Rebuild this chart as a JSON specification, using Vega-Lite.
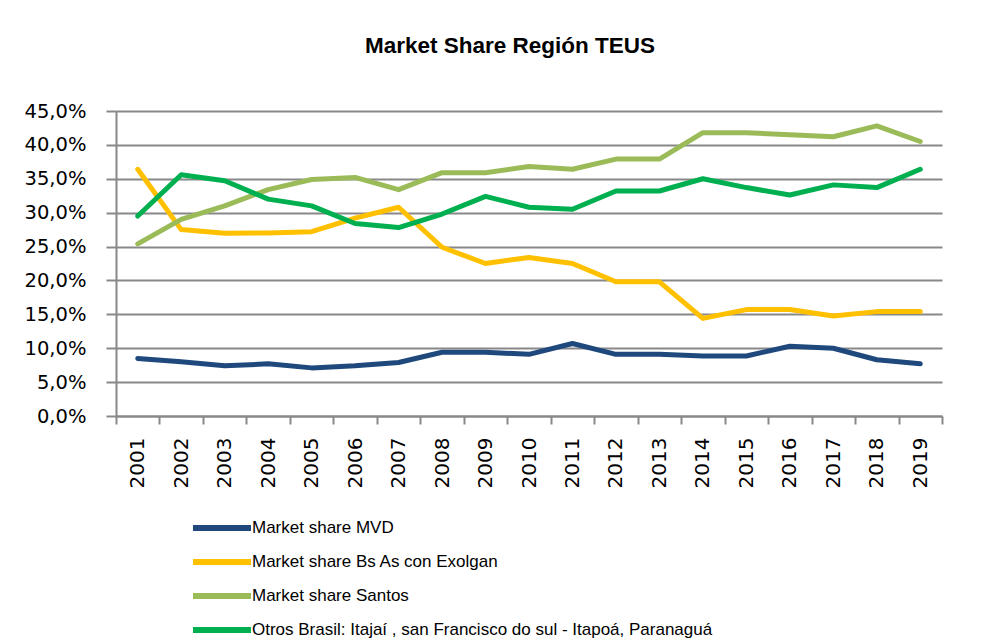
{
  "$schema": "https://vega.github.io/schema/vega-lite/v6.json",
  "width": 826,
  "height": 305,
  "autosize": "none",
  "padding": {"left": 116, "top": 111, "right": 53, "bottom": 222},
  "background": "white",
  "title": {"text": "Market Share Región TEUS", "font": "Liberation Sans", "fontSize": 22.5, "fontWeight": "bold", "color": "#000000", "anchor": "middle", "offset": 44, "dx": -19},
  "config": {"view": {"stroke": null}},
  "data": {"values": [
    {"year": "2001", "series": "Market share MVD", "value": 0.085},
    {"year": "2002", "series": "Market share MVD", "value": 0.080},
    {"year": "2003", "series": "Market share MVD", "value": 0.074},
    {"year": "2004", "series": "Market share MVD", "value": 0.077},
    {"year": "2005", "series": "Market share MVD", "value": 0.071},
    {"year": "2006", "series": "Market share MVD", "value": 0.074},
    {"year": "2007", "series": "Market share MVD", "value": 0.079},
    {"year": "2008", "series": "Market share MVD", "value": 0.094},
    {"year": "2009", "series": "Market share MVD", "value": 0.094},
    {"year": "2010", "series": "Market share MVD", "value": 0.091},
    {"year": "2011", "series": "Market share MVD", "value": 0.107},
    {"year": "2012", "series": "Market share MVD", "value": 0.091},
    {"year": "2013", "series": "Market share MVD", "value": 0.091},
    {"year": "2014", "series": "Market share MVD", "value": 0.0885},
    {"year": "2015", "series": "Market share MVD", "value": 0.0885},
    {"year": "2016", "series": "Market share MVD", "value": 0.103},
    {"year": "2017", "series": "Market share MVD", "value": 0.100},
    {"year": "2018", "series": "Market share MVD", "value": 0.083},
    {"year": "2019", "series": "Market share MVD", "value": 0.077},
    {"year": "2001", "series": "Market share Bs As con Exolgan", "value": 0.364},
    {"year": "2002", "series": "Market share Bs As con Exolgan", "value": 0.275},
    {"year": "2003", "series": "Market share Bs As con Exolgan", "value": 0.2695},
    {"year": "2004", "series": "Market share Bs As con Exolgan", "value": 0.270},
    {"year": "2005", "series": "Market share Bs As con Exolgan", "value": 0.272},
    {"year": "2006", "series": "Market share Bs As con Exolgan", "value": 0.292},
    {"year": "2007", "series": "Market share Bs As con Exolgan", "value": 0.308},
    {"year": "2008", "series": "Market share Bs As con Exolgan", "value": 0.249},
    {"year": "2009", "series": "Market share Bs As con Exolgan", "value": 0.225},
    {"year": "2010", "series": "Market share Bs As con Exolgan", "value": 0.234},
    {"year": "2011", "series": "Market share Bs As con Exolgan", "value": 0.225},
    {"year": "2012", "series": "Market share Bs As con Exolgan", "value": 0.198},
    {"year": "2013", "series": "Market share Bs As con Exolgan", "value": 0.198},
    {"year": "2014", "series": "Market share Bs As con Exolgan", "value": 0.144},
    {"year": "2015", "series": "Market share Bs As con Exolgan", "value": 0.157},
    {"year": "2016", "series": "Market share Bs As con Exolgan", "value": 0.157},
    {"year": "2017", "series": "Market share Bs As con Exolgan", "value": 0.1475},
    {"year": "2018", "series": "Market share Bs As con Exolgan", "value": 0.154},
    {"year": "2019", "series": "Market share Bs As con Exolgan", "value": 0.154},
    {"year": "2001", "series": "Market share Santos", "value": 0.254},
    {"year": "2002", "series": "Market share Santos", "value": 0.290},
    {"year": "2003", "series": "Market share Santos", "value": 0.310},
    {"year": "2004", "series": "Market share Santos", "value": 0.334},
    {"year": "2005", "series": "Market share Santos", "value": 0.349},
    {"year": "2006", "series": "Market share Santos", "value": 0.352},
    {"year": "2007", "series": "Market share Santos", "value": 0.334},
    {"year": "2008", "series": "Market share Santos", "value": 0.359},
    {"year": "2009", "series": "Market share Santos", "value": 0.359},
    {"year": "2010", "series": "Market share Santos", "value": 0.368},
    {"year": "2011", "series": "Market share Santos", "value": 0.364},
    {"year": "2012", "series": "Market share Santos", "value": 0.379},
    {"year": "2013", "series": "Market share Santos", "value": 0.379},
    {"year": "2014", "series": "Market share Santos", "value": 0.418},
    {"year": "2015", "series": "Market share Santos", "value": 0.418},
    {"year": "2016", "series": "Market share Santos", "value": 0.415},
    {"year": "2017", "series": "Market share Santos", "value": 0.412},
    {"year": "2018", "series": "Market share Santos", "value": 0.428},
    {"year": "2019", "series": "Market share Santos", "value": 0.405},
    {"year": "2001", "series": "Otros Brasil: Itajaí , san Francisco do sul - Itapoá, Paranaguá", "value": 0.295},
    {"year": "2002", "series": "Otros Brasil: Itajaí , san Francisco do sul - Itapoá, Paranaguá", "value": 0.356},
    {"year": "2003", "series": "Otros Brasil: Itajaí , san Francisco do sul - Itapoá, Paranaguá", "value": 0.347},
    {"year": "2004", "series": "Otros Brasil: Itajaí , san Francisco do sul - Itapoá, Paranaguá", "value": 0.320},
    {"year": "2005", "series": "Otros Brasil: Itajaí , san Francisco do sul - Itapoá, Paranaguá", "value": 0.310},
    {"year": "2006", "series": "Otros Brasil: Itajaí , san Francisco do sul - Itapoá, Paranaguá", "value": 0.284},
    {"year": "2007", "series": "Otros Brasil: Itajaí , san Francisco do sul - Itapoá, Paranaguá", "value": 0.278},
    {"year": "2008", "series": "Otros Brasil: Itajaí , san Francisco do sul - Itapoá, Paranaguá", "value": 0.298},
    {"year": "2009", "series": "Otros Brasil: Itajaí , san Francisco do sul - Itapoá, Paranaguá", "value": 0.324},
    {"year": "2010", "series": "Otros Brasil: Itajaí , san Francisco do sul - Itapoá, Paranaguá", "value": 0.308},
    {"year": "2011", "series": "Otros Brasil: Itajaí , san Francisco do sul - Itapoá, Paranaguá", "value": 0.305},
    {"year": "2012", "series": "Otros Brasil: Itajaí , san Francisco do sul - Itapoá, Paranaguá", "value": 0.332},
    {"year": "2013", "series": "Otros Brasil: Itajaí , san Francisco do sul - Itapoá, Paranaguá", "value": 0.332},
    {"year": "2014", "series": "Otros Brasil: Itajaí , san Francisco do sul - Itapoá, Paranaguá", "value": 0.350},
    {"year": "2015", "series": "Otros Brasil: Itajaí , san Francisco do sul - Itapoá, Paranaguá", "value": 0.337},
    {"year": "2016", "series": "Otros Brasil: Itajaí , san Francisco do sul - Itapoá, Paranaguá", "value": 0.326},
    {"year": "2017", "series": "Otros Brasil: Itajaí , san Francisco do sul - Itapoá, Paranaguá", "value": 0.341},
    {"year": "2018", "series": "Otros Brasil: Itajaí , san Francisco do sul - Itapoá, Paranaguá", "value": 0.337},
    {"year": "2019", "series": "Otros Brasil: Itajaí , san Francisco do sul - Itapoá, Paranaguá", "value": 0.364}
  ]},
  "mark": {"type": "line", "strokeWidth": 5, "strokeCap": "round", "strokeJoin": "round"},
  "encoding": {
    "x": {
      "field": "year", "type": "ordinal",
      "scale": {"type": "band", "paddingInner": 0, "paddingOuter": 0},
      "bandPosition": 0.5,
      "axis": {"title": null, "labelAngle": -90, "labelFont": "DejaVu Sans", "labelFontSize": 20, "labelColor": "#000000", "domainColor": "#888888", "domainWidth": 2, "tickColor": "#888888", "tickWidth": 2, "tickSize": 8, "tickBand": "extent", "labelPadding": 13, "grid": false}
    },
    "y": {
      "field": "value", "type": "quantitative",
      "scale": {"domain": [0, 0.45]},
      "axis": {"title": null, "values": [0, 0.05, 0.1, 0.15, 0.2, 0.25, 0.3, 0.35, 0.4, 0.45], "labelExpr": "replace(format(datum.value, '.1%'), '.', ',')", "labelFont": "DejaVu Sans", "labelFontSize": 19.5, "labelColor": "#000000", "labelPadding": 20, "tickSize": 10, "tickColor": "#888888", "tickWidth": 2, "grid": true, "gridColor": "#888888", "gridWidth": 2, "domainColor": "#888888", "domainWidth": 2}
    },
    "color": {
      "field": "series", "type": "nominal",
      "scale": {"domain": ["Market share MVD", "Market share Bs As con Exolgan", "Market share Santos", "Otros Brasil: Itajaí , san Francisco do sul - Itapoá, Paranaguá"], "range": ["#1F497D", "#FFC000", "#9BBB59", "#00B050"]},
      "legend": {"orient": "none", "legendX": 88.5, "legendY": 399.5, "direction": "vertical", "title": null, "symbolType": "M-2,0L2,0", "symbolSize": 841, "symbolStrokeWidth": 6, "labelFont": "Liberation Sans Narrow, Liberation Sans", "labelFontSize": 17, "labelColor": "#000000", "labelOffset": 12.5, "rowPadding": 4, "padding": 0, "labelLimit": 0}
    }
  }
}
